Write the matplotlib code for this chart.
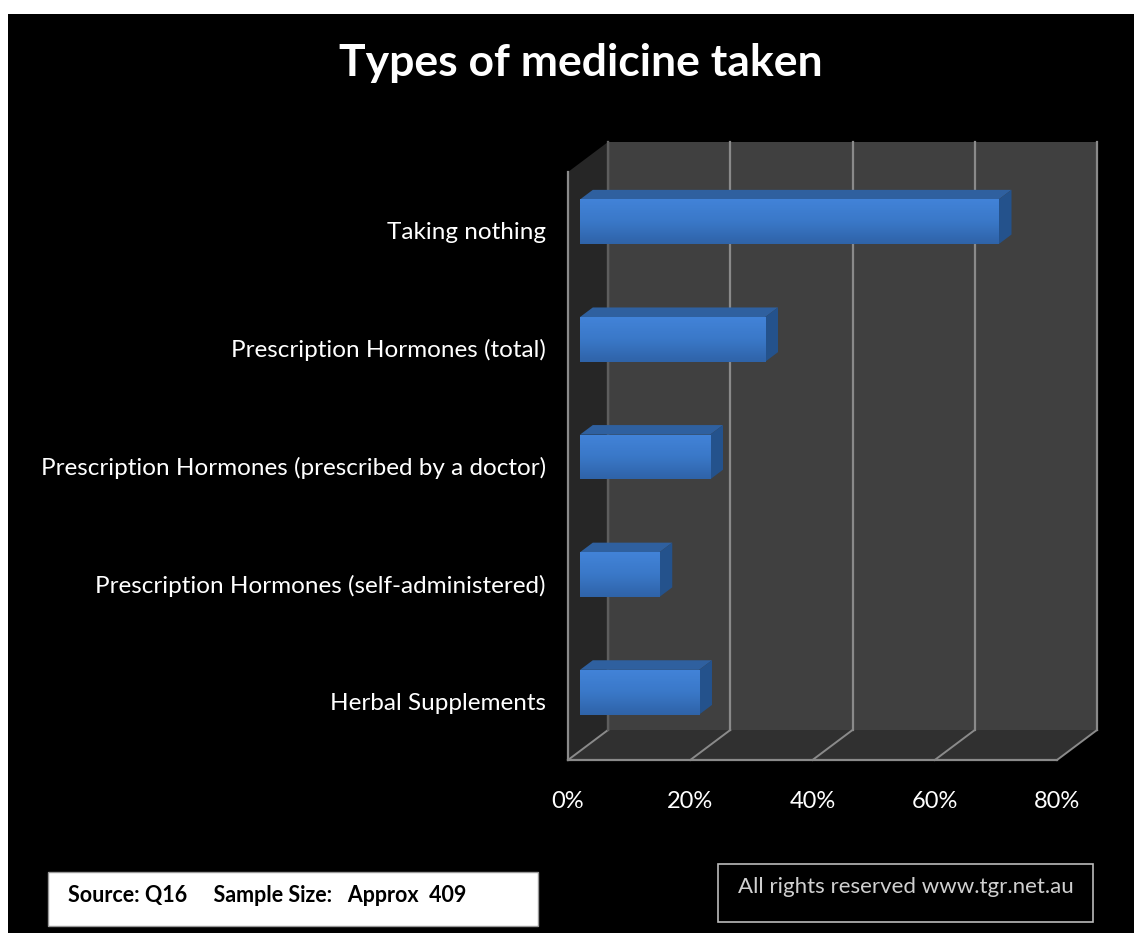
import numpy as np
import matplotlib
matplotlib.use("Agg")
import matplotlib.pyplot as plt
from matplotlib.patches import Polygon, Rectangle

# Chart data
categories = [
    "Herbal Supplements",
    "Prescription Hormones (self-administered)",
    "Prescription Hormones (prescribed by a doctor)",
    "Prescription Hormones (total)",
    "Taking nothing",
]
shares = [19.5, 13.0, 21.3, 30.3, 68.5]
tick_values = [0, 20, 40, 60, 80]
tick_labels = ["0%", "20%", "40%", "60%", "80%"]

title = "Types of medicine taken"
source_note = "Source: Q16     Sample Size:   Approx  409"
rights_note = "All rights reserved www.tgr.net.au"

FONT = ["Lato", "DejaVu Sans"]
W, H = 1134, 933

fig = plt.figure(figsize=(W / 100, H / 100), dpi=100)
fig.patch.set_facecolor("white")
# black canvas with thin white margin on top and left
fig.add_artist(Rectangle((8 / W, 0), 1, 1 - 14 / H, transform=fig.transFigure,
                         facecolor="black", edgecolor="none", zorder=0))

# axes = front plane of the 3D box
ax = fig.add_axes([568 / W, 173 / H, 489 / W, 588 / H])
ax.set_xlim(0, 80)
ax.set_ylim(-0.5, 4.5)
ax.patch.set_visible(False)
for s in ax.spines.values():
    s.set_visible(False)

DEPTH_PX = np.array([40.0, 30.0])


def deep(x, y, f):
    """data point pushed back by fraction f of the box depth"""
    px = ax.transData.transform((x, y)) + f * DEPTH_PX
    return ax.transData.inverted().transform(px)


def poly(pts, color, z, **kw):
    ax.add_patch(Polygon(pts, closed=True, facecolor=color, edgecolor="none",
                         zorder=z, clip_on=False, **kw))


x0, x1 = 0, 80
y0, y1 = -0.5, 4.5
grid_c = "#8a8a8a"

# walls
poly([deep(x0, y0, 1), deep(x1, y0, 1), deep(x1, y1, 1), deep(x0, y1, 1)], "#404040", 1)
poly([deep(x0, y0, 0), deep(x0, y0, 1), deep(x0, y1, 1), deep(x0, y1, 0)], "#262626", 1)
poly([deep(x0, y0, 0), deep(x1, y0, 0), deep(x1, y0, 1), deep(x0, y0, 1)], "#303030", 1)

# gridlines on back wall and floor
for t in tick_values:
    b0, b1 = deep(t, y0, 1), deep(t, y1, 1)
    ax.plot([b0[0], b1[0]], [b0[1], b1[1]], color=grid_c, lw=1.6, zorder=2, clip_on=False)
    f0 = deep(t, y0, 0)
    ax.plot([f0[0], b0[0]], [f0[1], b0[1]], color=grid_c, lw=1.4, zorder=2, clip_on=False)
ax.plot([x0, x1], [y0, y0], color=grid_c, lw=1.6, zorder=2, clip_on=False)
ax.plot([x0, x0], [y0, y1], color=grid_c, lw=1.6, zorder=2, clip_on=False)
b0, b1 = deep(x0, y0, 1), deep(x0, y1, 1)
ax.plot([b0[0], b1[0]], [b0[1], b1[1]], color="#555555", lw=1.2, zorder=2, clip_on=False)

# bars
bar_h = 0.38
f_front, f_back = 0.3, 0.62
grad = np.linspace(0, 1, 64).reshape(-1, 1)
bar_cmap = matplotlib.colors.LinearSegmentedColormap.from_list(
    "bar", ["#4283d8", "#3a78c8", "#2f63a8"])
for i, v in enumerate(shares):
    lo, hi = i - bar_h / 2, i + bar_h / 2
    p00 = deep(0, lo, f_front)
    p11 = deep(v, hi, f_front)
    # top face
    poly([deep(0, hi, f_front), deep(v, hi, f_front), deep(v, hi, f_back), deep(0, hi, f_back)],
         "#2f609f", 4)
    # side face
    poly([deep(v, lo, f_front), deep(v, lo, f_back), deep(v, hi, f_back), deep(v, hi, f_front)],
         "#24528c", 4)
    # front face with vertical gradient (light on top)
    face = Rectangle((p00[0], p00[1]), p11[0] - p00[0], p11[1] - p00[1],
                     facecolor="none", edgecolor="none", zorder=5)
    ax.add_patch(face)
    im = ax.imshow(grad, cmap=bar_cmap, extent=(p00[0], p11[0], p00[1], p11[1]),
                   aspect="auto", zorder=5)
    im.set_clip_path(face)
ax.set_xlim(0, 80)
ax.set_ylim(-0.5, 4.5)

# ticks and labels
ax.set_xticks(tick_values)
ax.set_xticklabels(tick_labels)
ax.set_yticks(range(len(categories)))
ax.set_yticklabels(categories)
ax.tick_params(axis="x", length=0, pad=22, labelsize=17, labelcolor="white")
ax.tick_params(axis="y", length=0, pad=16, labelsize=17.5, labelcolor="white")
for lab in ax.get_xticklabels() + ax.get_yticklabels():
    lab.set_family(FONT)

fig.text(581 / W, 1 - 63 / H, title, ha="center", va="center", color="white",
         fontsize=32, fontweight="bold", family=FONT)

# footer boxes
fig.add_artist(Rectangle((48 / W, 1 - 926 / H), 490 / W, 54 / H, transform=fig.transFigure,
                         facecolor="white", edgecolor="#999999", lw=1))
fig.text(68 / W, 1 - 895 / H, source_note, ha="left", va="center", color="black",
         fontsize=15.5, fontweight="bold", family=FONT)
fig.add_artist(Rectangle((718 / W, 1 - 922 / H), 375 / W, 58 / H, transform=fig.transFigure,
                         facecolor="black", edgecolor="#bbbbbb", lw=1.2))
fig.text(738 / W, 1 - 887 / H, rights_note, ha="left", va="center", color="#d0d0d0",
         fontsize=16, family=FONT)

fig.savefig("out.png", dpi=100, facecolor=fig.get_facecolor())
